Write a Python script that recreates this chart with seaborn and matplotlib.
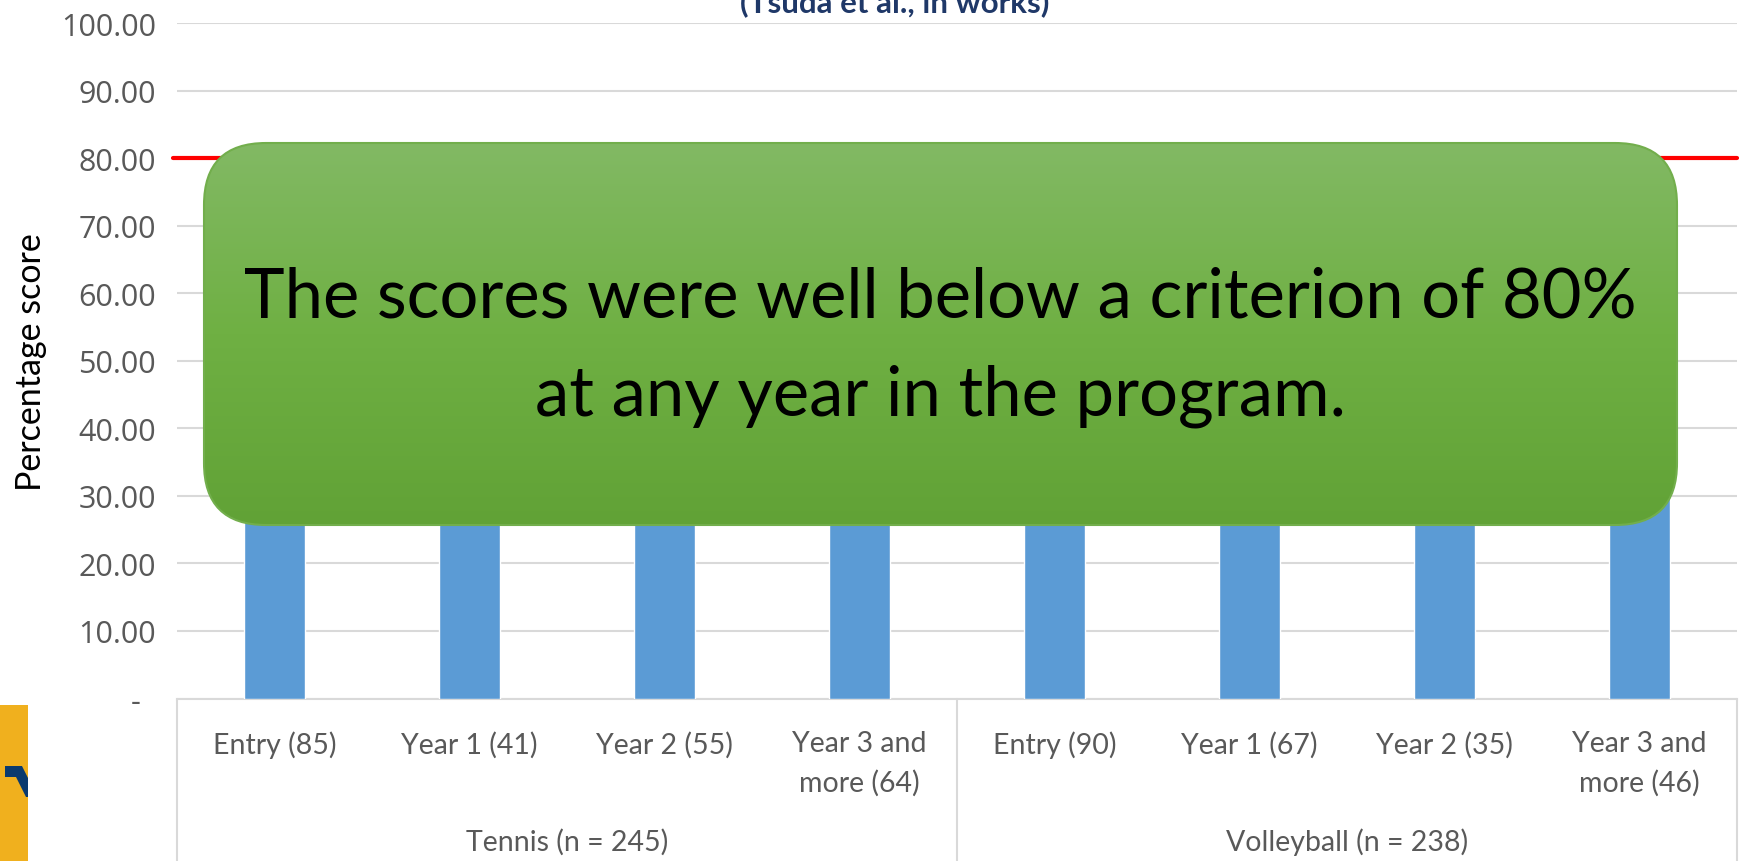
"""
Percentage score by year in program, tennis vs volleyball,
with the 80% criterion line and the callout box on top.
"""

import numpy as np
import pandas as pd
import matplotlib
matplotlib.use("Agg")
import matplotlib.pyplot as plt
import seaborn as sns
from matplotlib.patches import FancyBboxPatch, Rectangle, Polygon

# Data (bar heights are hidden behind the callout; estimated)
categories = ["Entry (85)", "Year 1 (41)", "Year 2 (55)", "Year 3 and\nmore (64)",
              "Entry (90)", "Year 1 (67)", "Year 2 (35)", "Year 3 and\nmore (46)"]
sports = ["Tennis (n = 245)"] * 4 + ["Volleyball (n = 238)"] * 4
scores = [44.0, 48.0, 50.0, 47.0, 42.0, 46.0, 45.0, 44.5]
criterion = 80
y_ticks = [0, 10, 20, 30, 40, 50, 60, 70, 80, 90, 100]
y_tick_labels = ["-  "] + [f"{v:.2f}" for v in y_ticks[1:]]
title_text = "(Tsuda et al., in works)"
callout_text = "The scores were well below a criterion of 80%\nat any year in the program."

df = pd.DataFrame({"category": categories, "sport": sports, "score": scores})

sns.set_style("white")
plt.rcParams["font.family"] = ["Lato", "DejaVu Sans"]

W, H = 1741, 862
fig = plt.figure(figsize=(W / 100, H / 100), dpi=100)

# main axes, placed in pixel terms
x0, x1, y_top, y_zero = 177, 1737, 24.4, 699.5
ax = fig.add_axes([x0 / W, (H - y_zero) / H, (x1 - x0) / W, (y_zero - y_top) / H])

sns.barplot(data=df, x="category", y="score", order=categories, color="#5B9BD5",
            saturation=1, width=0.31, ax=ax, zorder=3)

ax.set_xlim(-0.5, len(categories) - 0.5)
ax.set_ylim(0, 100)
ax.set_yticks(y_ticks)
ax.set_yticklabels(y_tick_labels, fontfamily="Open Sans", fontsize=22, color="#595959")
ax.tick_params(axis="y", length=0, pad=15)
ax.tick_params(axis="x", length=0, pad=23, labelsize=20.5, labelcolor="#595959")
for lbl in ax.get_xticklabels():
    lbl.set_linespacing(1.57)
ax.yaxis.grid(True, color="#D9D9D9", linewidth=1.5, zorder=0)
ax.set_axisbelow(True)
for side in ["top", "right", "left"]:
    ax.spines[side].set_visible(False)
ax.spines["bottom"].set_color("#D9D9D9")
ax.spines["bottom"].set_linewidth(1.5)
ax.set_xlabel("")
ax.set_ylabel("Percentage score", fontsize=24.5, color="black")
ax.yaxis.set_label_coords((47 - x0) / (x1 - x0), 0.5)

# multi-level category axis: group separators and group labels
xt = ax.get_xaxis_transform()
y_fig_bottom = (y_zero - H) / (y_zero - y_top)
for xs in [-0.5, 3.5, 7.5]:
    ax.plot([xs, xs], [0, y_fig_bottom], color="#D9D9D9", lw=1.5,
            transform=xt, clip_on=False)
groups = df.groupby("sport", sort=False).size()
start = 0
for name, n in groups.items():
    ax.text(start + (n - 1) / 2, (y_zero - 842) / (y_zero - y_top), name,
            transform=xt, ha="center", va="center", fontsize=20.5, color="#595959")
    start += n

# criterion line
ax.plot([-0.52, 7.5], [criterion, criterion], color="#FF0000", lw=3,
        zorder=4, clip_on=False)

# overlay in pixel coordinates for the callout, title and logo piece
ov = fig.add_axes([0, 0, 1, 1])
ov.set_xlim(0, W)
ov.set_ylim(H, 0)
ov.axis("off")
ov.patch.set_alpha(0)

bx0, by0, bx1, by1 = 204, 144, 1677, 526
box = FancyBboxPatch((bx0, by0), bx1 - bx0, by1 - by0,
                     boxstyle="round,pad=0,rounding_size=62",
                     facecolor="none", edgecolor="#72AE4C", lw=1.5, zorder=6)
ov.add_patch(box)
grad = np.linspace(0, 1, 256).reshape(-1, 1)
cmap = matplotlib.colors.LinearSegmentedColormap.from_list(
    "g", ["#82B964", "#6FB043", "#61A236"])
im = ov.imshow(grad, cmap=cmap, aspect="auto", extent=(bx0, bx1, by1, by0), zorder=5)
im.set_clip_path(box)
ov.set_xlim(0, W)
ov.set_ylim(H, 0)
ov.text((bx0 + bx1) / 2, 347, callout_text, ha="center", va="center",
        fontsize=49.5, color="black", linespacing=1.68, zorder=7)

ov.text(895, 12, title_text, ha="center", va="baseline", fontsize=22.5,
        fontweight="bold", color="#1F3868")

# piece of the logo at the lower left
ov.add_patch(Rectangle((0, 706), 28, H - 706, facecolor="#F0B01E", edgecolor="none"))
ov.add_patch(Polygon([(5, 767), (22, 767), (28, 779), (28, 798), (26, 798),
                      (16, 778), (5, 778)], closed=True,
                     facecolor="#0A3A6E", edgecolor="none"))

fig.savefig("out.png", dpi=100)
